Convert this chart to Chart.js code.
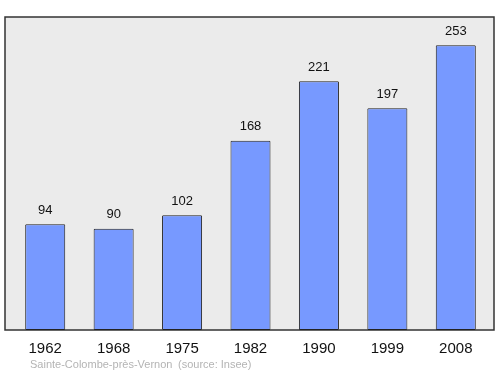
<!DOCTYPE html>
<html>
<head>
<meta charset="utf-8">
<script src="https://cdn.jsdelivr.net/npm/chart.js@4/dist/chart.umd.min.js"></script>
<style>
  html, body { margin: 0; padding: 0; background: #fff; }
  #wrap { width: 500px; height: 374px; }
</style>
</head>
<body>
<div id="wrap"><canvas id="grafico"></canvas></div>
<script>
// Données : population par recensement
const annees = ['1962', '1968', '1975', '1982', '1990', '1999', '2008'];
const population = [94, 90, 102, 168, 221, 197, 253];
const commune = 'Sainte-Colombe-près-Vernon';
const source = '(source: Insee)';

// Fond gris + cadre autour de la zone de tracé
const cadrePlugin = {
    id: 'cadre',
    beforeDraw(chart) {
        const { ctx, chartArea } = chart;
        const x = chartArea.left - 6;
        const w = chartArea.right - chartArea.left + 10;
        ctx.save();
        ctx.fillStyle = '#ebebeb';
        ctx.fillRect(x, chartArea.top, w, chartArea.bottom - chartArea.top);
        ctx.strokeStyle = '#333';
        ctx.lineWidth = 1.5;
        ctx.strokeRect(x, chartArea.top, w, chartArea.bottom - chartArea.top);
        ctx.restore();
    },
    afterDraw(chart) {
        const { ctx } = chart;
        ctx.save();
        ctx.font = '11px "Liberation Sans", Arial, sans-serif';
        ctx.fillStyle = '#b4b4b4';
        ctx.textBaseline = 'middle';
        ctx.fillText(commune, 30, 365);
        ctx.fillText(source, 178, 365);
        ctx.restore();
    }
};

// Valeurs au-dessus des barres
const etiquettesPlugin = {
    id: 'etiquettes',
    afterDatasetsDraw(chart) {
        const { ctx } = chart;
        const meta = chart.getDatasetMeta(0);
        ctx.save();
        ctx.font = '13px "Liberation Sans", Arial, sans-serif';
        ctx.fillStyle = '#111';
        ctx.textAlign = 'center';
        ctx.textBaseline = 'middle';
        meta.data.forEach((barre, i) => {
            ctx.fillText(String(population[i]), barre.x, barre.y - 14);
        });
        ctx.restore();
    }
};

new Chart(document.getElementById('grafico'), {
    type: 'bar',
    data: {
        labels: annees,
        datasets: [{
            data: population,
            backgroundColor: '#7799ff',
            borderColor: '#222',
            borderWidth: 1,
            borderRadius: 1,
            borderSkipped: false,
            barPercentage: 0.585,
            categoryPercentage: 1
        }]
    },
    options: {
        responsive: true,
        maintainAspectRatio: false,
        animation: false,
        layout: { padding: { left: 11, right: 10, top: 17, bottom: 6 } },
        plugins: {
            legend: { display: false },
            tooltip: { enabled: false }
        },
        scales: {
            x: {
                offset: true,
                grid: { display: false, drawTicks: false },
                border: { display: false },
                ticks: {
                    color: '#111',
                    padding: 10,
                    font: { size: 15, family: '"Liberation Sans", Arial, sans-serif' }
                }
            },
            y: {
                display: false,
                min: 0,
                max: 278
            }
        }
    },
    plugins: [cadrePlugin, etiquettesPlugin]
});
</script>
</body>
</html>
